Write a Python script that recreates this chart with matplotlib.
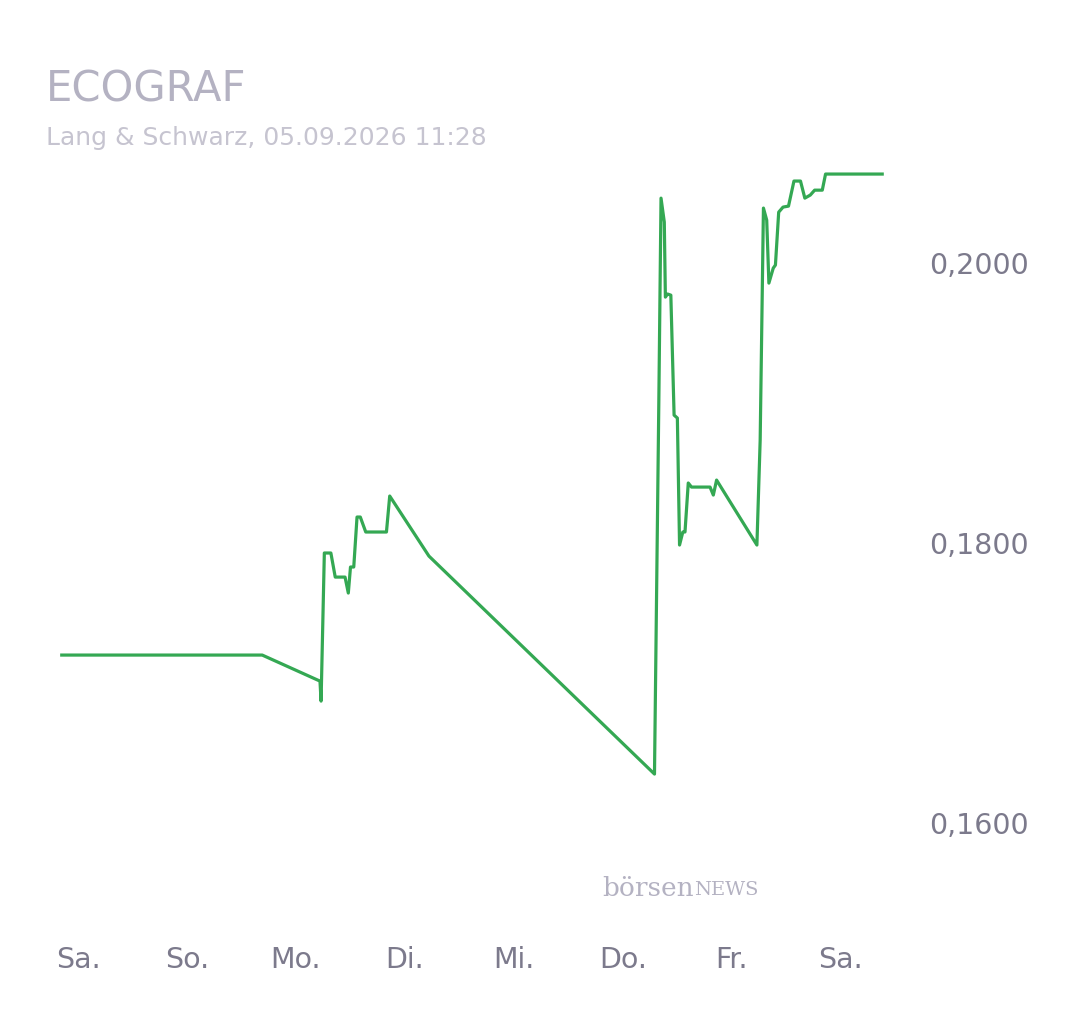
import matplotlib.pyplot as plt

# time in days since first "Sa." label, price in EUR
days = [-0.15, 1.69, 2.22, 2.23, 2.26, 2.32, 2.36, 2.45, 2.48, 2.50, 2.53, 2.56, 2.59, 2.64,
        2.68, 2.83, 2.86, 3.22, 5.29, 5.33, 5.35, 5.38, 5.39, 5.41, 5.44, 5.47, 5.50, 5.52,
        5.55, 5.57, 5.60, 5.63, 5.80, 5.83, 5.86, 6.23, 6.26, 6.29, 6.32, 6.34, 6.38, 6.40,
        6.43, 6.47, 6.52, 6.57, 6.63, 6.67, 6.72, 6.76, 6.83, 6.86, 7.38]
price = [0.1720, 0.1720, 0.17014, 0.16871, 0.17929, 0.17929, 0.17757, 0.17757, 0.17643,
         0.17829, 0.17829, 0.18186, 0.18186, 0.18079, 0.18079, 0.18079, 0.18336, 0.17907,
         0.16350, 0.19021, 0.20464, 0.20293, 0.19757, 0.19779, 0.19771, 0.18914, 0.18893,
         0.17986, 0.18079, 0.18079, 0.18429, 0.18400, 0.18400, 0.18343, 0.18450, 0.17986,
         0.18736, 0.20393, 0.20307, 0.19857, 0.19964, 0.19986, 0.20364, 0.20400, 0.20407,
         0.20586, 0.20586, 0.20464, 0.20486, 0.20521, 0.20521, 0.20636, 0.20636]
day_labels = ['Sa.', 'So.', 'Mo.', 'Di.', 'Mi.', 'Do.', 'Fr.', 'Sa.']
y_ticks = [0.16, 0.18, 0.20]

fig = plt.figure(figsize=(10.8, 10.13), dpi=100)
ax = fig.add_axes([0.037, 0.1115, 0.796, 0.7305])
ax.plot(days, price, color='#34a853', lw=2.3)
ax.set_xlim(-0.35, 7.54)
ax.set_ylim(0.1545, 0.20736)

ax.set_xticks(range(len(day_labels)))
ax.set_xticklabels(day_labels)
ax.yaxis.tick_right()
ax.set_yticks(y_ticks)
ax.set_yticklabels([f'{v:.4f}'.replace('.', ',') for v in y_ticks])
ax.tick_params(axis='x', length=0, pad=33, labelsize=20.5, colors='#7c7a8c')
ax.tick_params(axis='y', length=0, pad=21, labelsize=20.5, colors='#7c7a8c')
for s in ax.spines.values():
    s.set_visible(False)

fig.text(46/1080, 1 - 90/1013, 'ECOGRAF', fontsize=30, color='#b4b2c2', va='center')
fig.text(46/1080, 1 - 138/1013, 'Lang & Schwarz, 05.09.2026 11:28', fontsize=18,
         color='#c6c4d0', va='center')
fig.text(602/1080, 1 - 888/1013, 'börsen', fontsize=19, family='DejaVu Serif',
         color='#b4b2c2', va='center')
fig.text(694/1080, 1 - 890/1013, 'NEWS', fontsize=14, family='DejaVu Serif',
         color='#b4b2c2', va='center')

fig.savefig('out.png')
